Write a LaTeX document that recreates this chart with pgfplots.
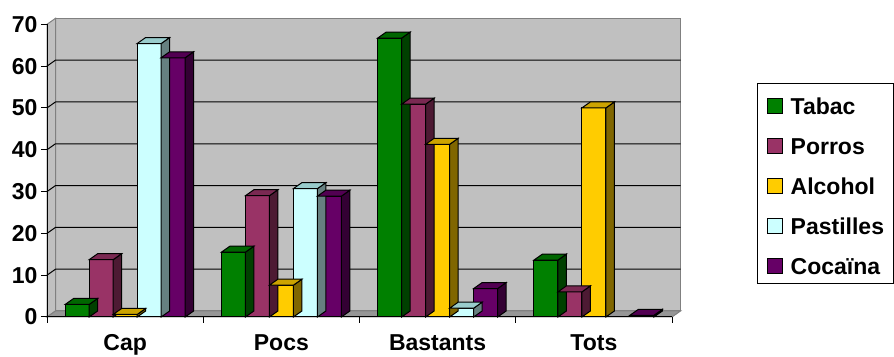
\documentclass[border=0pt]{standalone}
\usepackage{pgfplots}
\usepackage{pgfplotstable}
\pgfplotsset{compat=1.18}
\usepackage{fontspec}
\setmainfont{Liberation Sans}
\definecolor{tabac}{HTML}{008000}\definecolor{tabacT}{HTML}{006600}\definecolor{tabacS}{HTML}{004000}
\definecolor{porros}{HTML}{993366}\definecolor{porrosT}{HTML}{7A2952}\definecolor{porrosS}{HTML}{4D1A33}
\definecolor{alcohol}{HTML}{FFCC00}\definecolor{alcoholT}{HTML}{CCA300}\definecolor{alcoholS}{HTML}{806600}
\definecolor{pastilles}{HTML}{CCFFFF}\definecolor{pastillesT}{HTML}{99CCCC}\definecolor{pastillesS}{HTML}{668080}
\definecolor{cocaina}{HTML}{660066}\definecolor{cocainaT}{HTML}{520052}\definecolor{cocainaS}{HTML}{330033}
\definecolor{wallgray}{HTML}{C0C0C0}\definecolor{floorgray}{HTML}{969696}\definecolor{bordergray}{HTML}{808080}

\pgfdeclareplotmark{sideface}{%
  \pgfmathsetmacro\hh{\myy*4.181}%
  \pgfpathmoveto{\pgfpoint{\bs pt+12pt}{0pt}}%
  \pgfpathlineto{\pgfpoint{\bs pt+20.5pt}{6pt}}%
  \pgfpathlineto{\pgfpoint{\bs pt+20.5pt}{6pt-\hh pt}}%
  \pgfpathlineto{\pgfpoint{\bs pt+12pt}{-\hh pt}}%
  \pgfpathclose
  \pgfusepathqfillstroke
}
\pgfdeclareplotmark{topface}{%
  \pgfpathmoveto{\pgfpoint{\bs pt-12pt}{0pt}}%
  \pgfpathlineto{\pgfpoint{\bs pt+12pt}{0pt}}%
  \pgfpathlineto{\pgfpoint{\bs pt+20.5pt}{6pt}}%
  \pgfpathlineto{\pgfpoint{\bs pt-3.5pt}{6pt}}%
  \pgfpathclose
  \pgfusepathqfillstroke
}

\pgfplotstableread{
x tabac porros alcohol pastilles cocaina
0 3.0 13.7 0.6 65.4 62.0
1 15.5 29.0 7.6 30.7 28.9
2 66.7 50.9 41.3 2.1 6.8
3 13.6 6.0 50.0 nan 0.4
}\data

\newcommand{\barseries}[3]{% column, color, shift
  \addplot[only marks, mark=sideface, mark options={fill=#2S, draw=black, line width=1pt, solid},
    visualization depends on={rawy \as \myy}, visualization depends on={value #3 \as \bs}, forget plot]
    table[x=x, y=#1]{\data};
  \addplot[only marks, mark=topface, mark options={fill=#2T, draw=black, line width=1pt, solid},
    visualization depends on={value #3 \as \bs}, forget plot]
    table[x=x, y=#1]{\data};
  \addplot[ybar, bar width=24pt, bar shift=#3pt, fill=#2, draw=black, line width=1pt, forget plot]
    table[x=x, y=#1]{\data};
}

\begin{document}
\begin{tikzpicture}
\useasboundingbox (0,0) rectangle (894pt,356pt);
\begin{axis}[
  at={(47pt,39pt)}, anchor=south west,
  x=156.25pt, y=4.181pt,
  xmin=-0.5, xmax=3.5, ymin=0, ymax=70,
  clip=false, axis on top,
  axis x line*=bottom, axis y line*=left,
  axis line style={black, line width=1pt},
  tick align=outside, major tick length=6pt,
  tick style={black, line width=1pt},
  xtick={-0.5,0.5,1.5,2.5,3.5}, xticklabels={},
  extra x ticks={0,1,2,3}, extra x tick labels={Cap,Pocs,Bastants,Tots},
  extra x tick style={major tick length=0pt, tick style={draw=none}, xticklabel style={yshift=-14pt}},
  ytick={0,10,...,70},
  /pgf/number format/assume math mode=true,
  ticklabel style={font=\fontsize{23}{23}\selectfont\bfseries},
  legend style={at={(1,1)}, anchor=north west, xshift=85pt, yshift=-59pt,
    draw=black, line width=1pt, font=\fontsize{23}{23}\selectfont\bfseries,
    inner xsep=9pt, inner ysep=4.5pt, row sep=9pt, /tikz/column sep=8pt,
    nodes={anchor=base west, inner sep=0pt, text height=26pt, text depth=5pt}},
  legend image code/.code={\draw[#1, line width=1.2pt] (0pt,1pt) rectangle (15pt,16pt);},
]
% walls and floor
\filldraw[wallgray, draw=bordergray, line width=1pt] ([shift={(8.5pt,6pt)}]axis cs:-0.5,0) rectangle ([shift={(8.5pt,6pt)}]axis cs:3.5,70);
\filldraw[wallgray, draw=bordergray, line width=1pt] (axis cs:-0.5,0) -- ([shift={(8.5pt,6pt)}]axis cs:-0.5,0) -- ([shift={(8.5pt,6pt)}]axis cs:-0.5,70) -- (axis cs:-0.5,70) -- cycle;
\filldraw[floorgray, draw=bordergray, line width=1pt] (axis cs:-0.5,0) -- (axis cs:3.5,0) -- ([shift={(8.5pt,6pt)}]axis cs:3.5,0) -- ([shift={(8.5pt,6pt)}]axis cs:-0.5,0) -- cycle;
\pgfplotsinvokeforeach{10,20,30,40,50,60}{
  \draw[black, line width=1pt] (axis cs:-0.5,#1) -- ([shift={(8.5pt,6pt)}]axis cs:-0.5,#1) -- ([shift={(8.5pt,6pt)}]axis cs:3.5,#1);
}
\barseries{tabac}{tabac}{-48}
\barseries{porros}{porros}{-24}
\barseries{alcohol}{alcohol}{0}
\barseries{pastilles}{pastilles}{24}
\barseries{cocaina}{cocaina}{48}
\addlegendimage{fill=tabac, draw=black}\addlegendentry{Tabac}
\addlegendimage{fill=porros, draw=black}\addlegendentry{Porros}
\addlegendimage{fill=alcohol, draw=black}\addlegendentry{Alcohol}
\addlegendimage{fill=pastilles, draw=black}\addlegendentry{Pastilles}
\addlegendimage{fill=cocaina, draw=black}\addlegendentry{Cocaïna}
\end{axis}
\end{tikzpicture}
\end{document}
